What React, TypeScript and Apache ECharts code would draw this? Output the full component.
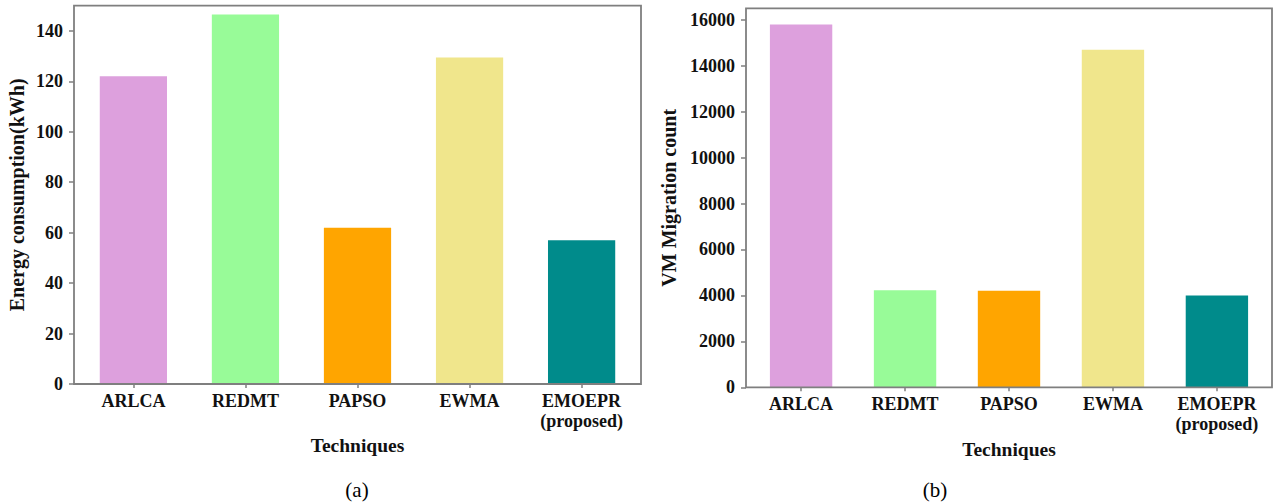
import React, { useEffect, useRef } from "react";
import * as echarts from "echarts";

const categories = ["ARLCA", "REDMT", "PAPSO", "EWMA", "EMOEPR\n(proposed)"];
const energyValues = [122, 146.5, 62, 129.5, 57];
const migrationValues = [15800, 4230, 4200, 14700, 4000];
const barColors = ["#DDA0DD", "#98FB98", "#FFA500", "#F0E68C", "#008B8B"];
const energyTicks = [0, 20, 40, 60, 80, 100, 120, 140];
const migrationTicks = [0, 2000, 4000, 6000, 8000, 10000, 12000, 14000, 16000];
const energyMax = 150;
const migrationMax = 16500;
const xTitle = "Techniques";
const energyTitle = "Energy consumption(kWh)";
const migrationTitle = "VM Migration count";
const captions = ["(a)", "(b)"];

const FONT = "'Liberation Serif', 'Times New Roman', serif";
const AXIS = "#7f7f7f";
const TEXT = "#111";

const frames = [
  { x: 74, y: 5.7, w: 567, h: 378.3 },
  { x: 746, y: 8.3, w: 526, h: 379 },
];

export default function App() {
  const ref = useRef<HTMLDivElement>(null);
  useEffect(() => {
    if (!ref.current) return;
    const chart = echarts.init(ref.current, undefined, { renderer: "svg" });
    const grids = frames.map((f) => {
      const inset = (f.w / 5.06) * 0.03;
      return { left: f.x + inset, top: f.y, width: f.w - 2 * inset, height: f.h, offset: inset };
    });
    const xAxisCommon = (i: number) => ({
      type: "category",
      gridIndex: i,
      data: categories,
      axisLine: { show: false },
      axisTick: { show: true, alignWithLabel: true, length: 4, lineStyle: { color: AXIS, width: 1.5 } },
      axisLabel: {
        interval: 0,
        fontFamily: FONT,
        fontWeight: "bold",
        fontSize: 18,
        lineHeight: 20,
        color: TEXT,
        margin: 7,
      },
      name: xTitle,
      nameLocation: "middle",
      nameGap: 48,
      nameTextStyle: { fontFamily: FONT, fontWeight: "bold", fontSize: 19.5, color: TEXT },
      splitLine: { show: false },
    });
    const yAxisCommon = (i: number, max: number, ticks: number[], name: string, gap: number) => ({
      type: "value",
      gridIndex: i,
      min: 0,
      max,
      offset: grids[i].offset,
      axisLine: { show: false },
      axisTick: { show: true, length: 5, customValues: ticks, lineStyle: { color: AXIS, width: 1.5 } },
      axisLabel: {
        customValues: ticks,
        formatter: (v: number) => String(v),
        fontFamily: FONT,
        fontWeight: "bold",
        fontSize: 18,
        color: TEXT,
        margin: 11,
      },
      splitLine: { show: false },
      name,
      nameLocation: "middle",
      nameGap: gap,
      nameTextStyle: { fontFamily: FONT, fontWeight: "bold", fontSize: 20, color: TEXT },
    });
    const barSeries = (i: number, values: number[]) => ({
      type: "bar",
      xAxisIndex: i,
      yAxisIndex: i,
      barWidth: "60%",
      data: values.map((v, k) => ({ value: v, itemStyle: { color: barColors[k] } })),
    });
    chart.setOption({
      animation: false,
      backgroundColor: "#ffffff",
      grid: grids.map((g) => ({ left: g.left, top: g.top, width: g.width, height: g.height })),
      xAxis: [xAxisCommon(0), xAxisCommon(1)],
      yAxis: [
        yAxisCommon(0, energyMax, energyTicks, energyTitle, 47),
        yAxisCommon(1, migrationMax, migrationTicks, migrationTitle, 67),
      ],
      series: [barSeries(0, energyValues), barSeries(1, migrationValues)],
      graphic: [
        ...frames.map((f) => ({
          type: "rect",
          z: 100,
          silent: true,
          shape: { x: f.x, y: f.y, width: f.w, height: f.h },
          style: { fill: "none", stroke: AXIS, lineWidth: 1.8 },
        })),
        {
          type: "text",
          x: 357,
          y: 490,
          style: { text: captions[0], fontFamily: FONT, fontSize: 21, fill: "#000", align: "center", verticalAlign: "middle" },
        },
        {
          type: "text",
          x: 935,
          y: 490,
          style: { text: captions[1], fontFamily: FONT, fontSize: 21, fill: "#000", align: "center", verticalAlign: "middle" },
        },
      ],
    });
    return () => chart.dispose();
  }, []);
  return (
    <div
      ref={ref}
      style={{ position: "absolute", left: 0, top: 0, width: 1274, height: 504, background: "#fff" }}
    />
  );
}
